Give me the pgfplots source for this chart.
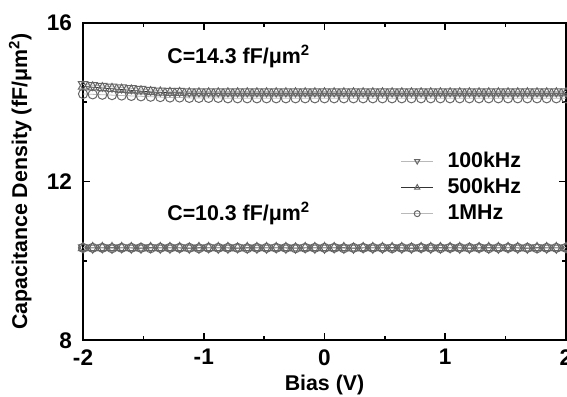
\documentclass[border=0pt]{standalone}
\usepackage{pgfplots}
\pgfplotsset{compat=1.18}
\usepackage{pgfplotstable}
\usepackage{fontspec}
\setmainfont{Liberation Sans}
\usetikzlibrary{calc}
\pgfplotstableread{
x a b c d e f
-2.00 14.45 14.40 14.21 10.34 10.33 10.33
-1.92 14.43 14.38 14.20 10.33 10.33 10.33
-1.84 14.41 14.36 14.19 10.34 10.33 10.33
-1.76 14.39 14.34 14.18 10.33 10.33 10.32
-1.68 14.37 14.32 14.17 10.34 10.33 10.33
-1.60 14.35 14.30 14.16 10.33 10.33 10.33
-1.52 14.33 14.28 14.15 10.33 10.32 10.33
-1.44 14.31 14.26 14.14 10.34 10.33 10.32
-1.36 14.29 14.25 14.13 10.33 10.33 10.33
-1.28 14.28 14.24 14.12 10.33 10.33 10.33
-1.20 14.28 14.24 14.12 10.34 10.33 10.33
-1.12 14.27 14.23 14.11 10.33 10.32 10.33
-1.04 14.27 14.23 14.11 10.33 10.33 10.32
-0.96 14.27 14.23 14.11 10.34 10.33 10.33
-0.88 14.27 14.23 14.11 10.33 10.33 10.33
-0.80 14.27 14.23 14.10 10.33 10.33 10.33
-0.72 14.27 14.23 14.10 10.34 10.32 10.33
-0.64 14.27 14.23 14.10 10.33 10.33 10.32
-0.56 14.27 14.23 14.10 10.33 10.33 10.33
-0.48 14.27 14.23 14.10 10.33 10.33 10.33
-0.40 14.27 14.23 14.10 10.34 10.33 10.33
-0.32 14.27 14.23 14.10 10.33 10.33 10.33
-0.24 14.27 14.23 14.10 10.33 10.32 10.32
-0.16 14.27 14.23 14.10 10.34 10.33 10.33
-0.08 14.27 14.23 14.10 10.33 10.33 10.33
0.00 14.27 14.23 14.10 10.33 10.33 10.33
0.08 14.27 14.23 14.10 10.34 10.33 10.33
0.16 14.27 14.23 14.10 10.33 10.33 10.32
0.24 14.27 14.23 14.10 10.33 10.32 10.33
0.32 14.27 14.23 14.10 10.34 10.33 10.33
0.40 14.27 14.23 14.10 10.33 10.33 10.33
0.48 14.27 14.23 14.10 10.33 10.33 10.33
0.56 14.27 14.23 14.10 10.34 10.33 10.32
0.64 14.27 14.23 14.10 10.33 10.33 10.33
0.72 14.27 14.23 14.10 10.33 10.32 10.33
0.80 14.27 14.23 14.10 10.34 10.33 10.33
0.88 14.27 14.23 14.10 10.33 10.33 10.33
0.96 14.27 14.23 14.10 10.33 10.33 10.32
1.04 14.27 14.23 14.10 10.34 10.33 10.33
1.12 14.27 14.23 14.10 10.33 10.33 10.33
1.20 14.27 14.23 14.10 10.33 10.32 10.33
1.28 14.27 14.23 14.10 10.34 10.33 10.33
1.36 14.27 14.23 14.10 10.33 10.33 10.32
1.44 14.27 14.23 14.10 10.33 10.33 10.33
1.52 14.27 14.23 14.10 10.34 10.33 10.33
1.60 14.27 14.23 14.10 10.33 10.33 10.33
1.68 14.27 14.23 14.10 10.33 10.32 10.33
1.76 14.27 14.23 14.10 10.34 10.33 10.32
1.84 14.27 14.23 14.10 10.33 10.33 10.33
1.92 14.27 14.23 14.10 10.33 10.33 10.33
2.00 14.27 14.23 14.10 10.34 10.33 10.33
}\datatab
\begin{document}
\begin{tikzpicture}
\begin{axis}[
  name=ax,
  scale only axis,
  width=242pt, height=159pt,
  xmin=-2, xmax=2, ymin=8, ymax=16,
  xtick={-2,-1,0,1,2}, ytick={8,12,16},
  minor x tick num=1, minor y tick num=1,
  tick align=inside,
  major tick length=3.5pt, minor tick length=2pt,
  axis line style={line width=0.8pt},
  every tick/.style={line width=0.8pt, black},
  /pgf/number format/assume math mode=true,
  ticklabel style={font=\bfseries\fontsize{11.3}{13}\selectfont},
  yticklabel style={xshift=-2pt},
  xticklabel style={yshift=-1pt},
  label style={font=\bfseries\fontsize{10.7}{12}\selectfont},
  xlabel={Bias (V)},
  ylabel={Capacitance Density (fF/μm\textsuperscript{2})},
  xlabel style={at={(axis description cs:0.5,-0.14)}, anchor=center},
  ylabel style={at={(axis description cs:-0.13,0.5)}, anchor=center},
  legend style={at={(0.645,0.62)}, anchor=north west, draw=none, fill=none,
    font=\bfseries\fontsize{10.7}{12}\selectfont, row sep=0pt},
  legend cell align=left,
  legend image code/.code={\draw[#1, mark repeat=2, mark phase=2] plot coordinates {(0cm,0cm) (0.28cm,0cm) (0.56cm,0cm)};},
  legend image post style={mark size=1.5pt},
  clip=false,
]
\addplot[gray!55, line width=0.4pt, mark=triangle, mark size=2.7pt,
  mark options={rotate=180, black!60, line width=0.5pt}] table[x=x,y=a]{\datatab};
\addlegendentry{\hspace{5pt}100kHz}
\addplot[black!80, line width=0.4pt, mark=triangle, mark size=2.7pt,
  mark options={black!60, line width=0.5pt}] table[x=x,y=b]{\datatab};
\addlegendentry{\hspace{5pt}500kHz}
\addplot[gray!55, line width=0.4pt, mark=o, mark size=2.3pt,
  mark options={black!60, line width=0.5pt}] table[x=x,y=c]{\datatab};
\addlegendentry{\hspace{5pt}1MHz}
\addplot[gray!55, line width=0.4pt, mark=triangle, mark size=2.7pt,
  mark options={rotate=180, black!60, line width=0.5pt}, forget plot] table[x=x,y=d]{\datatab};
\addplot[black!80, line width=0.4pt, mark=triangle, mark size=2.7pt,
  mark options={black!60, line width=0.5pt}, forget plot] table[x=x,y=e]{\datatab};
\addplot[gray!55, line width=0.4pt, mark=o, mark size=2.3pt,
  mark options={black!60, line width=0.5pt}, forget plot] table[x=x,y=f]{\datatab};
\node[anchor=west, font=\bfseries\fontsize{10.7}{12}\selectfont] at (axis cs:-1.36,15.15) {C=14.3 fF/μm\textsuperscript{2}};
\node[anchor=west, font=\bfseries\fontsize{10.7}{12}\selectfont] at (axis cs:-1.36,11.2) {C=10.3 fF/μm\textsuperscript{2}};
\end{axis}
\pgfresetboundingbox
\useasboundingbox ($(ax.south west)+(-41.6pt,-28pt)$) rectangle ($(ax.north east)+(0.5pt,11.5pt)$);
\end{tikzpicture}
\end{document}
